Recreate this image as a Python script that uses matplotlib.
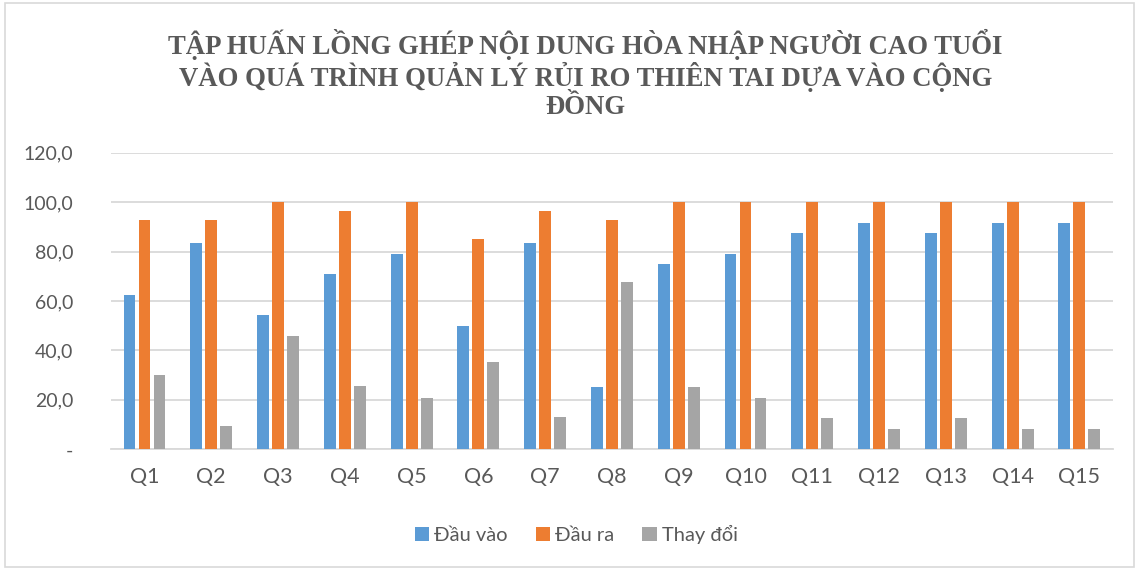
import numpy as np
import matplotlib
matplotlib.use('Agg')
import matplotlib.pyplot as plt
from matplotlib.patches import Rectangle

categories = ['Q%d' % i for i in range(1, 16)]
dau_vao = [62.5, 83.3, 54.2, 70.8, 79.2, 50.0, 83.3, 25.0, 75.0, 79.2, 87.5, 91.7, 87.5, 91.7, 91.7]
dau_ra = [92.6, 92.6, 100.0, 96.3, 100.0, 85.2, 96.3, 92.6, 100.0, 100.0, 100.0, 100.0, 100.0, 100.0, 100.0]
thay_doi = [30.1, 9.3, 45.8, 25.5, 20.8, 35.2, 13.0, 67.6, 25.0, 20.8, 12.5, 8.3, 12.5, 8.3, 8.3]
series_names = ['Đầu vào', 'Đầu ra', 'Thay đổi']
yticks = [0, 20, 40, 60, 80, 100, 120]
ytick_labels = ['-', '20,0', '40,0', '60,0', '80,0', '100,0', '120,0']
title = ('TẬP HUẤN LỒNG GHÉP NỘI DUNG HÒA NHẬP NGƯỜI CAO TUỔI\n'
         'VÀO QUÁ TRÌNH QUẢN LÝ RỦI RO THIÊN TAI DỰA VÀO CỘNG\n'
         'ĐỒNG')

colors = ['#5B9BD5', '#ED7D31', '#A5A5A5']
text_color = '#595959'
grid_color = '#D9D9D9'
sans = ['Lato', 'DejaVu Sans']

fig = plt.figure(figsize=(11.39, 5.69), dpi=100)
ax = fig.add_axes([0.0975, 0.2104, 0.8795, 0.5212])

x = np.arange(len(categories))
step = 0.2246
width = 0.178
for i, (vals, name) in enumerate(zip([dau_vao, dau_ra, thay_doi], series_names)):
    ax.bar(x + (i - 1) * step, vals, width, color=colors[i], label=name, zorder=3)

ax.set_xlim(-0.5, len(categories) - 0.5)
ax.set_ylim(0, 120)
ax.set_yticks(yticks)
ax.set_yticklabels(ytick_labels, family=sans, fontsize=14, color=text_color)
ax.set_xticks(x)
ax.set_xticklabels(categories, family=sans, fontsize=15.5, color=text_color)
ax.tick_params(axis='y', length=0, pad=27)
ax.tick_params(axis='x', length=0, pad=13)
ax.grid(axis='y', color=grid_color, linewidth=1.3, zorder=0)
for s in ['top', 'right', 'left']:
    ax.spines[s].set_visible(False)
ax.spines['bottom'].set_color(grid_color)
ax.spines['bottom'].set_linewidth(1.3)

fig.text(0.514, 0.95, title, ha='center', va='top', family='Liberation Serif',
         fontweight='bold', fontsize=19.3, color=text_color, linespacing=1.12)

leg = fig.legend(loc='center', bbox_to_anchor=(0.506, 0.06), ncol=3, frameon=False,
                 prop={'family': sans, 'size': 14.5}, handlelength=0.7, handleheight=0.7,
                 handletextpad=0.25, columnspacing=1.4)
for t in leg.get_texts():
    t.set_color(text_color)

fig.patches.append(Rectangle((0.004, 0.004), 0.992, 0.99, transform=fig.transFigure,
                             fill=False, edgecolor=grid_color, linewidth=1.2))

fig.savefig('out.png', dpi=100)
